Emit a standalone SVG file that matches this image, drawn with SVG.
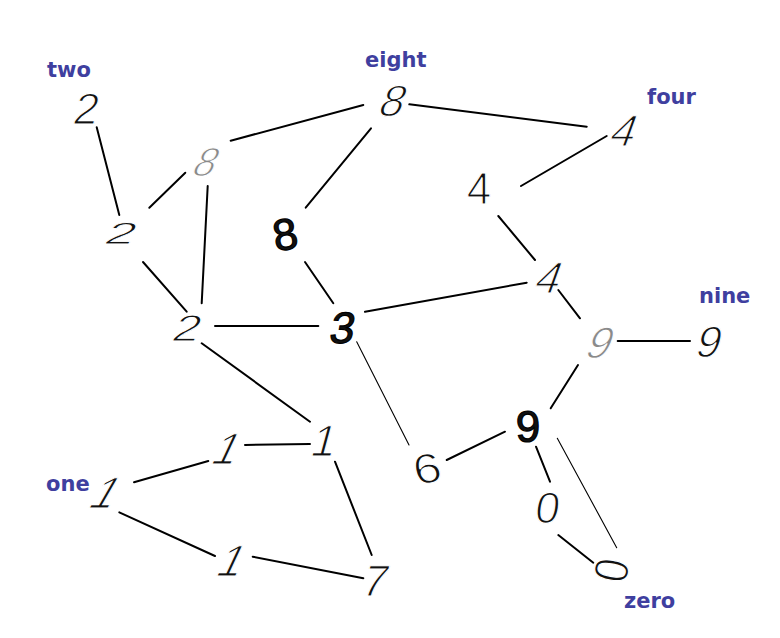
<svg xmlns="http://www.w3.org/2000/svg" width="780" height="638" viewBox="0 0 780 638">
<style>
.bg{fill:#ffffff}
.e{stroke:#000;stroke-width:2;stroke-linecap:round;fill:none}
.t{stroke-width:1.1}
.d{font-family:"Liberation Sans",Arial,sans-serif;font-size:44px;fill:#111;text-anchor:middle;stroke:#fff;stroke-width:1.2}
.g{fill:#8a8a8a}
.b{stroke:#000;stroke-width:1.2}
.lbl{font-family:"DejaVu Sans",Verdana,sans-serif;font-weight:bold;font-size:21px;fill:#3f3f9f}
</style>
<rect class="bg" width="780" height="638"/>
<g id="connectors">
<line class="e" x1="96.7" y1="127.3" x2="119.3" y2="215"/>
<line class="e" x1="149.3" y1="207.7" x2="185.3" y2="172.7"/>
<line class="e" x1="230.7" y1="140.7" x2="363.3" y2="105"/>
<line class="e" x1="207.7" y1="186" x2="201.7" y2="303.3"/>
<line class="e" x1="371" y1="128.3" x2="305.7" y2="207.7"/>
<line class="e" x1="409.3" y1="104.3" x2="586.7" y2="126.7"/>
<line class="e" x1="606.7" y1="136" x2="521" y2="186"/>
<line class="e" x1="498.3" y1="216" x2="535" y2="260"/>
<line class="e" x1="365" y1="311.7" x2="526.7" y2="282.7"/>
<line class="e" x1="558.3" y1="290" x2="580" y2="318.3"/>
<line class="e" x1="617.7" y1="341" x2="690" y2="341"/>
<line class="e" x1="578" y1="365" x2="550.7" y2="408.3"/>
<line class="e" x1="143" y1="262" x2="186.7" y2="311.7"/>
<line class="e" x1="305" y1="262" x2="333.3" y2="303.3"/>
<line class="e" x1="215" y1="326" x2="318.3" y2="326"/>
<line class="e" x1="201.7" y1="343.3" x2="310" y2="421.7"/>
<line class="e t" x1="356.7" y1="341.7" x2="409" y2="445"/>
<line class="e" x1="245" y1="445" x2="310" y2="444"/>
<line class="e" x1="134" y1="482.3" x2="208.3" y2="461"/>
<line class="e" x1="119.3" y1="512.3" x2="215" y2="556"/>
<line class="e" x1="252.7" y1="556.7" x2="363.3" y2="578.3"/>
<line class="e" x1="335" y1="461.7" x2="371.7" y2="555"/>
<line class="e" x1="446.7" y1="460" x2="505" y2="431.7"/>
<line class="e" x1="536" y1="446.7" x2="550" y2="481.7"/>
<line class="e" x1="558.3" y1="535" x2="593.3" y2="562.7"/>
<line class="e t" x1="557.3" y1="438.3" x2="616.7" y2="547.7"/>
</g>
<g id="label-two"><text class="lbl" x="47" y="77">two</text></g>
<g id="label-eight"><text class="lbl" x="365" y="67">eight</text></g>
<g id="label-four"><text class="lbl" x="647" y="104">four</text></g>
<g id="label-nine"><text class="lbl" x="699" y="303">nine</text></g>
<g id="label-one"><text class="lbl" x="46" y="491">one</text></g>
<g id="label-zero"><text class="lbl" x="624" y="608">zero</text></g>
<g id="n-2a" transform="translate(87,108) skewX(-12)"><text class="d" y="15.7">2</text></g>
<g id="n-2b" transform="translate(122,233) scale(1.2,0.7) skewX(-15)"><text class="d" y="15.7">2</text></g>
<g id="n-8a" transform="translate(207,162) scale(0.9,0.92) skewX(-25)"><text class="d g" y="15.7">8</text></g>
<g id="n-8b" transform="translate(394,100) skewX(-20)"><text class="d" y="15.7">8</text></g>
<g id="n-8c" transform="translate(285,234) rotate(-10)"><text class="d b" y="15.7">8</text></g>
<g id="n-4a" transform="translate(625,130) skewX(-20)"><text class="d" y="15.7">4</text></g>
<g id="n-4b" transform="translate(479,188)"><text class="d" y="15.7">4</text></g>
<g id="n-4c" transform="translate(550,277) skewX(-20)"><text class="d" y="15.7">4</text></g>
<g id="n-9a" transform="translate(601,342) skewX(-22)"><text class="d g" y="15.7">9</text></g>
<g id="n-9b" transform="translate(710,341) skewX(-15)"><text class="d" y="15.7">9</text></g>
<g id="n-2c" transform="translate(188,328) scale(1.1,0.85) skewX(-15)"><text class="d" y="15.7">2</text></g>
<g id="n-3" transform="translate(343,327) skewX(-10)"><text class="d b" y="15.7">3</text></g>
<g id="n-1a" transform="translate(325,440) skewX(-15)"><text class="d" y="15.7">1</text></g>
<g id="n-1b" transform="translate(228,448) skewX(-25)"><text class="d" y="15.7">1</text></g>
<g id="n-1c" transform="translate(107,492) skewX(-30)"><text class="d" y="15.7">1</text></g>
<g id="n-1d" transform="translate(233,560) skewX(-25)"><text class="d" y="15.7">1</text></g>
<g id="n-7" transform="translate(376,580) skewX(-15)"><text class="d" y="15.7">7</text></g>
<g id="n-6" transform="translate(427,468) scale(1.15,0.95) rotate(-10)"><text class="d" y="15.7">6</text></g>
<g id="n-9c" transform="translate(528,426)"><text class="d b" y="15.7">9</text></g>
<g id="n-0a" transform="translate(548,507) skewX(-8)"><text class="d" y="15.7">0</text></g>
<g id="n-0b" transform="translate(611,570) rotate(-80) scale(0.95,1.1)"><text class="d" y="15.7">0</text></g>
</svg>
